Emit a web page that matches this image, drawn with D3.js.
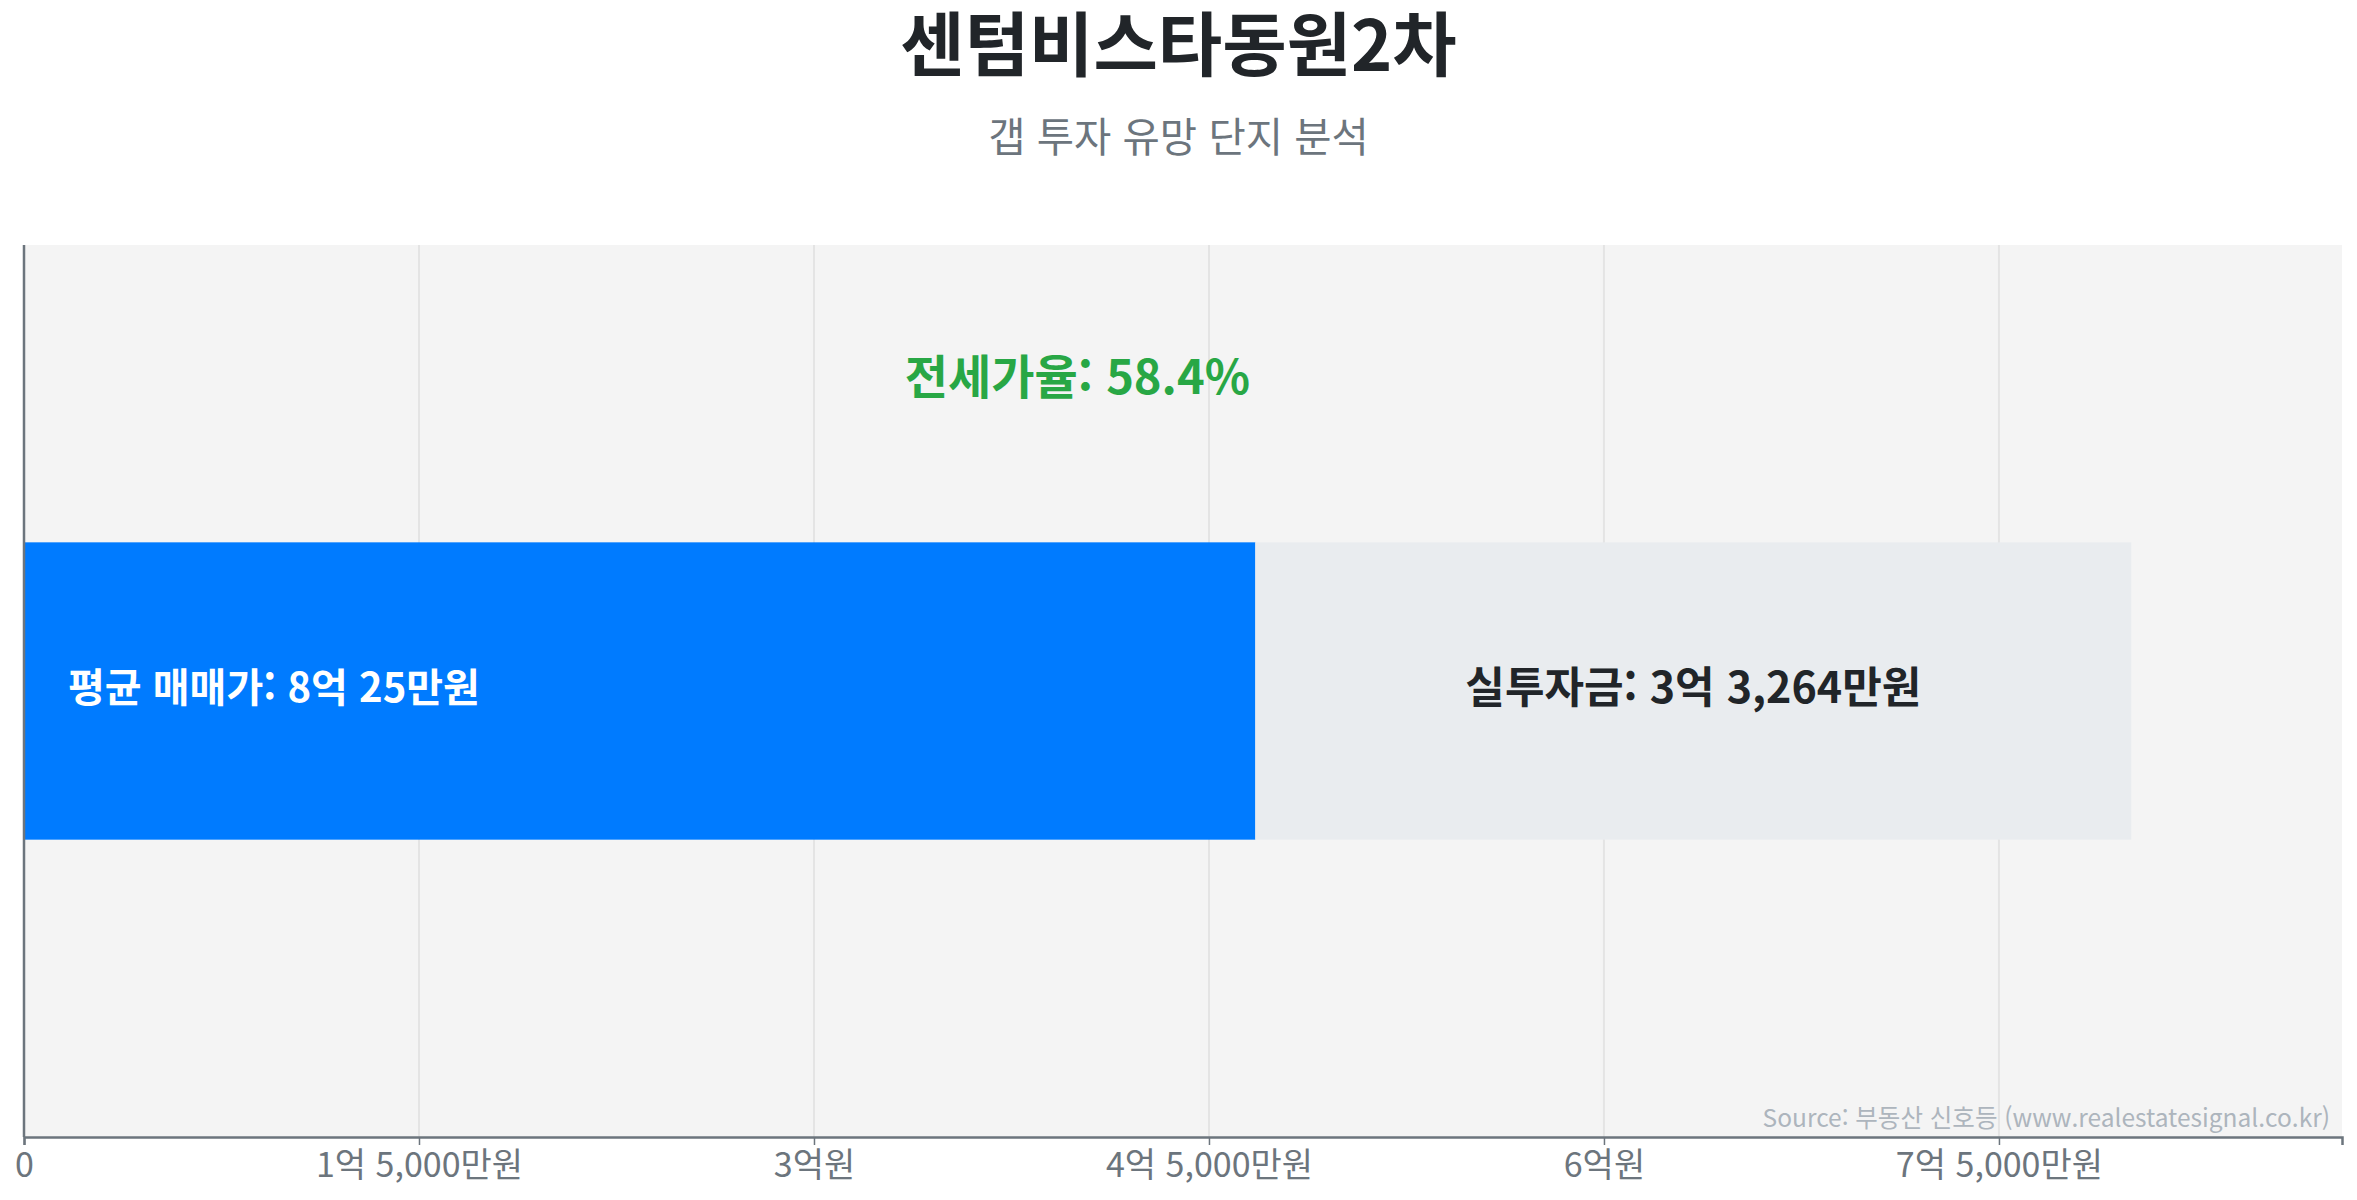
<!DOCTYPE html>
<html lang="ko">
<head>
<meta charset="utf-8">
<title>센텀비스타동원2차 갭 투자 분석</title>
<script src="https://cdn.jsdelivr.net/npm/d3@7"></script>
<style>
  html, body { margin: 0; padding: 0; background: #fff; }
  #chart { width: 2357px; height: 1200px; }
  text { font-family: "Noto Sans CJK KR", "Noto Sans", sans-serif; }
</style>
</head>
<body>
<div id="chart"></div>
<script>
// values in 만원
const categories = ['센텀비스타동원2차'];
const salePrices = [80025];
const jeonsePrices = [46761];
const gapAmounts = [33264];
const jeonseRatios = [58.4];
const tickValues = [0, 15000, 30000, 45000, 60000, 75000];
const tickLabels = ['0', '1억 5,000만원', '3억원', '4억 5,000만원', '6억원', '7억 5,000만원'];
const ratioAnchor = [40000];

class GapChart {
  constructor(options){
    this.$el = options.el;
    this.colors = options.colors;
    if(this.$el){
      this.init();
    }
  }
  init() {
    this.width = 2357;
    this.height = 1200;
    this.margin = {top: 245, right: 15, bottom: 63, left: 24};
    this.draw();
  }
  won(v) {
    const eok = Math.floor(v / 10000);
    const man = v % 10000;
    if(man === 0) return `${eok}억원`;
    return `${eok}억 ${d3.format(',')(man)}만원`;
  }
  draw() {
    this.$el.innerHTML = '';
    const m = this.margin;
    const svg = d3.select(this.$el).append('svg')
      .attr('width', this.width)
      .attr('height', this.height)
      .attr('viewBox', `0,0,${this.width},${this.height}`);

    const innerW = this.width - m.left - m.right;
    const innerH = this.height - m.top - m.bottom;

    // chart.js style headroom: max = total * 1.1
    const x = d3.scaleLinear()
      .domain([0, d3.max(salePrices) * 1.1])
      .range([m.left, m.left + innerW]);
    const y = d3.scaleBand()
      .domain(categories)
      .range([m.top, m.top + innerH])
      .padding(0.5);

    // titles
    svg.append('text')
      .attr('x', this.width / 2)
      .attr('y', 71)
      .attr('text-anchor', 'middle')
      .style('font-size', '70px')
      .style('font-weight', 700)
      .style('fill', '#212529')
      .text(categories[0]);
    svg.append('text')
      .attr('x', this.width / 2)
      .attr('y', 152)
      .attr('text-anchor', 'middle')
      .style('font-size', '40.5px')
      .style('fill', '#6c757d')
      .text('갭 투자 유망 단지 분석');

    // plot background
    svg.append('rect')
      .attr('x', m.left)
      .attr('y', m.top)
      .attr('width', innerW)
      .attr('height', innerH)
      .attr('fill', '#f4f4f4');

    // grid
    svg.append('g')
      .selectAll('line')
      .data(tickValues.slice(1))
      .join('line')
      .attr('x1', d => x(d))
      .attr('x2', d => x(d))
      .attr('y1', m.top)
      .attr('y2', m.top + innerH)
      .style('stroke', '#e4e4e4')
      .style('stroke-width', 2);

    // stacked bar
    const bars = svg.append('g');
    bars.selectAll('rect.jeonse')
      .data(categories)
      .join('rect')
      .attr('class', 'jeonse')
      .attr('x', x(0))
      .attr('y', d => y(d))
      .attr('width', (d, i) => x(jeonsePrices[i]) - x(0))
      .attr('height', y.bandwidth())
      .attr('fill', this.colors[0]);
    bars.selectAll('rect.gap')
      .data(categories)
      .join('rect')
      .attr('class', 'gap')
      .attr('x', (d, i) => x(jeonsePrices[i]))
      .attr('y', d => y(d))
      .attr('width', (d, i) => x(jeonsePrices[i] + gapAmounts[i]) - x(jeonsePrices[i]))
      .attr('height', y.bandwidth())
      .attr('fill', this.colors[1]);

    // bar labels
    bars.selectAll('text.sale')
      .data(categories)
      .join('text')
      .attr('class', 'sale')
      .attr('x', x(0) + 44)
      .attr('y', d => y(d) + y.bandwidth() / 2 - 3)
      .attr('dy', '0.35em')
      .style('font-size', '40px')
      .style('font-weight', 700)
      .style('fill', '#fff')
      .text((d, i) => `평균 매매가: ${this.won(salePrices[i])}`);
    bars.selectAll('text.gap')
      .data(categories)
      .join('text')
      .attr('class', 'gap')
      .attr('x', (d, i) => (x(jeonsePrices[i]) + x(jeonsePrices[i] + gapAmounts[i])) / 2)
      .attr('y', d => y(d) + y.bandwidth() / 2 - 3)
      .attr('dy', '0.35em')
      .attr('text-anchor', 'middle')
      .style('font-size', '43px')
      .style('font-weight', 700)
      .style('fill', '#212529')
      .text((d, i) => `실투자금: ${this.won(gapAmounts[i])}`);

    // ratio annotation
    svg.append('text')
      .attr('x', x(ratioAnchor[0]))
      .attr('y', (m.top + y(categories[0])) / 2)
      .attr('text-anchor', 'middle')
      .style('font-size', '47px')
      .style('font-weight', 700)
      .style('fill', this.colors[2])
      .text(`전세가율: ${jeonseRatios[0]}%`);

    // axes
    const xAxis = d3.axisBottom(x)
      .tickValues(tickValues)
      .tickFormat((d, i) => tickLabels[i])
      .tickSize(8)
      .tickPadding(8);
    const gx = svg.append('g')
      .attr('transform', `translate(0,${m.top + innerH})`)
      .call(xAxis);
    gx.select('.domain').style('stroke', '#6c757d').style('stroke-width', 2.5);
    gx.selectAll('.tick line').style('stroke', '#6c757d').style('stroke-width', 1.5);
    gx.selectAll('.tick text')
      .style('font-family', '"Noto Sans CJK KR", sans-serif')
      .style('font-size', '34px')
      .style('fill', '#6c757d');

    svg.append('line')
      .attr('x1', m.left).attr('x2', m.left)
      .attr('y1', m.top).attr('y2', m.top + innerH)
      .style('stroke', '#6c757d')
      .style('stroke-width', 2.5);

    // source
    svg.append('text')
      .attr('x', m.left + innerW - 12)
      .attr('y', m.top + innerH - 10)
      .attr('text-anchor', 'end')
      .style('font-size', '24.5px')
      .style('fill', '#adb5bd')
      .text('Source: 부동산 신호등 (www.realestatesignal.co.kr)');
  }
}

new GapChart({
  el: document.getElementById('chart'),
  colors: ['#007bff', '#e9ecef', '#28a745']
});
</script>
</body>
</html>
